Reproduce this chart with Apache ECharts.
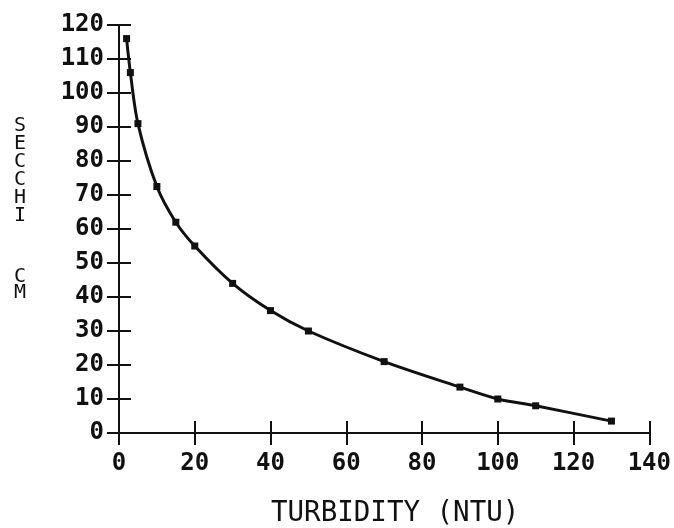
<!DOCTYPE html>
<html>
<head>
<meta charset="utf-8">
<script src="https://cdn.jsdelivr.net/npm/echarts@6/dist/echarts.min.js"></script>
<style>
html,body{margin:0;padding:0;background:#fff;}
#chart{width:674px;height:528px;}
</style>
</head>
<body>
<div id="chart"></div>
<script>
// Data
var turbidity = [2, 3, 5, 10, 15, 20, 30, 40, 50, 70, 90, 100, 110, 130];
var secchi    = [116, 106, 91, 72.5, 62, 55, 44, 36, 30, 21, 13.5, 10, 8, 3.5];
var xTitle = 'TURBIDITY (NTU)';
var yTitleTop = 'S\nE\nC\nC\nH\nI';
var yTitleBottom = 'C\nM';

var points = turbidity.map(function (x, i) { return [x, secchi[i]]; });
var mono = '"DejaVu Sans Mono", "Liberation Mono", monospace';

var chart = echarts.init(document.getElementById('chart'), null, {renderer: 'canvas'});
var gridLeft = 119, gridTop = 25, gridRight = 5, gridBottom = 95;

function xAx(show, inside) {
  return {
    type: 'value', min: 0, max: 140, interval: 20, position: 'bottom',
    axisLine: {show: show, lineStyle: {color: '#111', width: 2}},
    axisTick: {show: true, inside: inside, length: 12, lineStyle: {color: '#111', width: 2}},
    axisLabel: {show: show, margin: 19, color: '#111', fontFamily: mono, fontSize: 24, fontWeight: 'bold'},
    splitLine: {show: false}
  };
}
function yAx(show, inside) {
  return {
    type: 'value', min: 0, max: 120, interval: 10, position: 'left',
    axisLine: {show: show, lineStyle: {color: '#111', width: 2}},
    axisTick: {show: true, inside: inside, length: 12, lineStyle: {color: '#111', width: 2}},
    axisLabel: {show: show, margin: 15, color: '#111', fontFamily: mono, fontSize: 24, fontWeight: 'bold'},
    splitLine: {show: false}
  };
}

chart.setOption({
  animation: false,
  backgroundColor: '#fff',
  grid: {left: gridLeft, top: gridTop, right: gridRight, bottom: gridBottom, containLabel: false},
  xAxis: [xAx(true, false), xAx(false, true)],
  yAxis: [yAx(true, false), yAx(false, true)],
  graphic: [
    {type: 'text', left: 271, top: 500, style: {text: xTitle, fill: '#111', font: 'normal 27.5px ' + mono}},
    {type: 'text', left: 14, top: 116, style: {text: yTitleTop, fill: '#111', font: 'normal 20px ' + mono, lineHeight: 18}},
    {type: 'text', left: 14, top: 267, style: {text: yTitleBottom, fill: '#111', font: 'normal 20px ' + mono, lineHeight: 16}}
  ],
  series: [{
    type: 'line',
    xAxisIndex: 0, yAxisIndex: 0,
    data: points,
    smooth: 0.3,
    symbol: 'rect',
    symbolSize: 7,
    lineStyle: {color: '#111', width: 3},
    itemStyle: {color: '#111'}
  }]
});
</script>
</body>
</html>
